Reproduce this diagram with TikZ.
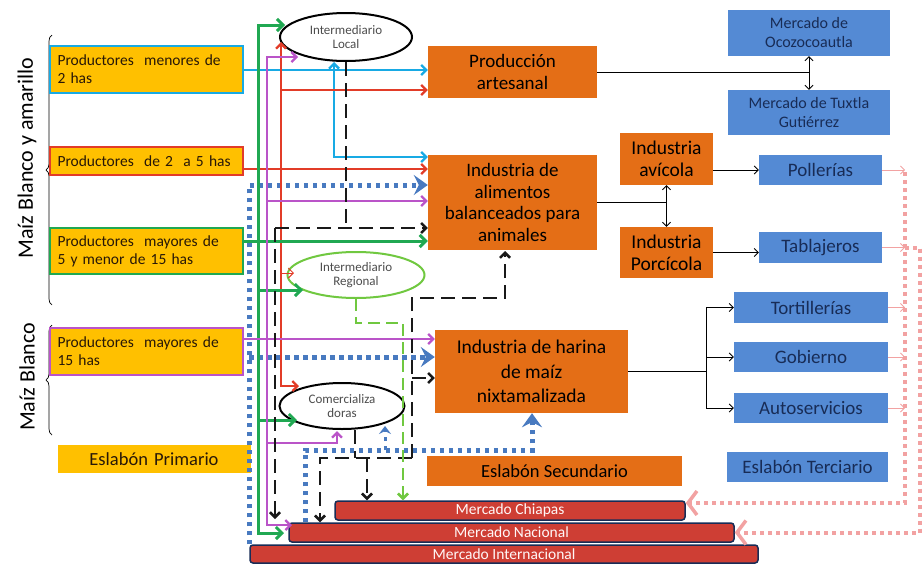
\documentclass[tikz,border=0pt]{standalone}
\usepackage{fontspec}
\setmainfont{Carlito}
\usetikzlibrary{arrows.meta,positioning,shapes.geometric,decorations.pathreplacing}
\definecolor{prodcol}{RGB}{255,192,0}
\definecolor{indcol}{RGB}{228,110,22}
\definecolor{indtext}{RGB}{40,24,8}
\definecolor{mktcol}{RGB}{84,138,212}
\definecolor{redmkt}{RGB}{206,62,52}
\definecolor{navycol}{RGB}{24,44,86}
\definecolor{cyancol}{RGB}{24,170,228}
\definecolor{redcol}{RGB}{226,60,40}
\definecolor{greencol}{RGB}{32,168,82}
\definecolor{purpcol}{RGB}{186,84,200}
\definecolor{lgreencol}{RGB}{112,200,64}
\definecolor{dotblue}{RGB}{72,122,192}
\definecolor{pinkcol}{RGB}{242,162,162}
\tikzset{
  pr/.style={rectangle,fill=prodcol,line width=2.5pt,minimum width=193pt,inner sep=0pt,text width=178pt,align=left,font=\fontsize{15.5}{18}\selectfont,text=indtext},
  ibox/.style={rectangle,fill=indcol,inner sep=0pt,align=center,font=\fontsize{19}{21.5}\selectfont,text=black},
  bx/.style={rectangle,fill=mktcol,inner sep=0pt,align=center,font=\fontsize{19}{19}\selectfont,text=navycol},
  mk/.style={rectangle,rounded corners=3pt,fill=redmkt,draw=navycol,line width=1.5pt,inner sep=0pt,minimum height=19pt,font=\fontsize{15.5}{15}\selectfont,text=white!88!pink},
  el/.style={ellipse,draw,line width=2pt,inner sep=0pt,align=center,font=\fontsize{13}{14}\selectfont,text=black!70},
  brc/.style={decorate,decoration={brace,amplitude=6pt},line width=0.7pt},
  cy/.style={-{Straight Barb[length=5pt,width=10pt]},draw=cyancol,line width=2.3pt},
  rd/.style={-{Straight Barb[length=5pt,width=10pt]},draw=redcol,line width=2.3pt},
  gr/.style={-{Straight Barb[length=6pt,width=12pt]},draw=greencol,line width=3pt},
  pu/.style={-{Straight Barb[length=5pt,width=10pt]},draw=purpcol,line width=2.3pt},
  bd/.style={-{Straight Barb[length=5pt,width=10pt]},draw=black!90,line width=2.5pt,dash pattern=on 14pt off 7pt},
  lg/.style={-{Straight Barb[length=5pt,width=10pt]},draw=lgreencol,line width=2.5pt,dash pattern=on 12pt off 6pt},
  bl/.style={-{Stealth[length=14pt,width=20pt,inset=5pt]},draw=dotblue,line width=5pt,dash pattern=on 4.5pt off 4.5pt},
  pk/.style={-{Straight Barb[length=9pt,width=24pt,line width=3.5pt]},draw=pinkcol,line width=4pt,dash pattern=on 4pt off 4pt},
  pkt/.style={-{Straight Barb[length=4pt,width=8pt]},draw=pinkcol,line width=0.8pt},
  bk/.style={-{Straight Barb[length=4pt,width=8pt]},draw=black,line width=0.9pt},
  bkd/.style={bk,{Straight Barb[length=4pt,width=8pt]}-{Straight Barb[length=4pt,width=8pt]}}
}
\begin{document}
\begin{tikzpicture}[x=1pt,y=-1pt]
\useasboundingbox (0,0) rectangle (924,565);
% labels on the left
\node[rotate=90,font=\fontsize{22}{24}\selectfont] (mby) at (27,158){Maíz Blanco y amarillo};
\node[rotate=90,font=\fontsize{22}{24}\selectfont] (mb) at (27,377){Maíz Blanco};
\coordinate (b1t) at (52,35);\coordinate (b1b) at (52,305);
\coordinate (b2t) at (52,325);\coordinate (b2b) at (52,435);
\draw[brc] (b1b) -- (b1t);
\draw[brc] (b2b) -- (b2t);
% primary link
\node[pr,draw=cyancol,minimum height=47pt] (p1) at (146.5,69.5){Productores\ \ menores de\\2 has};
\node[pr,draw=redcol,minimum height=28pt] (p2) at (146.5,161){Productores\ \ de 2\ \ a 5 has};
\node[pr,draw=greencol,minimum height=46pt] (p3) at (146.5,251){Productores\ \ mayores de\\5 y menor de 15 has};
\node[pr,draw=purpcol,minimum height=47pt] (p4) at (146.5,351.5){Productores\ \ mayores de\\15 has};
\node[pr,minimum height=28pt,align=center,font=\fontsize{18.5}{19}\selectfont] (epri) at (154,459){Eslabón Primario};
% intermediaries
\node[el,minimum width=132pt,minimum height=48pt] (loc) at (346,37){Intermediario\\Local};
\node[el,draw=lgreencol,minimum width=137pt,minimum height=46pt] (reg) at (356,275){Intermediario\\Regional};
\node[el,minimum width=125pt,minimum height=46pt] (com) at (342,406){Comercializa\\doras};
% secondary link
\node[ibox,minimum width=169pt,minimum height=52pt,font=\fontsize{19}{22}\selectfont] (art) at (512.5,72){Producción\\artesanal};
\node[ibox,minimum width=169pt,minimum height=95pt] (alim) at (512.5,202.5){Industria de\\alimentos\\balanceados para\\animales};
\node[ibox,minimum width=93pt,minimum height=52pt,font=\fontsize{19.5}{22}\selectfont] (avi) at (666.5,159){Industria\\avícola};
\node[ibox,minimum width=93pt,minimum height=51pt,font=\fontsize{19.5}{22}\selectfont] (por) at (666.5,252.5){Industria\\Porcícola};
\node[ibox,minimum width=193pt,minimum height=83pt,font=\fontsize{19.5}{24.5}\selectfont] (har) at (531.5,371.5){Industria de harina\\de maíz\\nixtamalizada};
\node[ibox,minimum width=255pt,minimum height=30pt,font=\fontsize{18.5}{19}\selectfont] (esec) at (554.5,471){Eslabón Secundario};
% tertiary link
\node[bx,minimum width=162pt,minimum height=46pt,font=\fontsize{16}{19}\selectfont] (oco) at (809,33){Mercado de\\Ocozocoautla};
\node[bx,minimum width=162pt,minimum height=45pt,font=\fontsize{16}{19}\selectfont] (tux) at (809,112.5){Mercado de Tuxtla\\Gutiérrez};
\node[bx,minimum width=123pt,minimum height=30pt] (pol) at (820.5,170){Pollerías};
\node[bx,minimum width=123pt,minimum height=31pt] (tab) at (820.5,247.5){Tablajeros};
\node[bx,minimum width=154pt,minimum height=31pt] (tor) at (811,307.5){Tortillerías};
\node[bx,minimum width=154pt,minimum height=30pt] (gob) at (811,357){Gobierno};
\node[bx,minimum width=154pt,minimum height=30pt] (aut) at (811,408){Autoservicios};
\node[bx,minimum width=161pt,minimum height=30pt] (eter) at (807.5,467){Eslabón Terciario};
% markets
\node[mk,minimum width=508pt,minimum height=18pt] (int) at (504,554){Mercado Internacional};
\node[mk,minimum width=445pt] (nac) at (511.5,532.5){Mercado Nacional};
\node[mk,minimum width=350pt] (chi) at (510,510.5){Mercado Chiapas};
% blue dotted returns
\coordinate (blt) at (249,185);\coordinate (blm) at (249,357);
\coordinate (bls) at (305,450);\coordinate (blh) at (532,450);\coordinate (blc) at (385,450);\coordinate (blce) at (385,426);
\draw[bl] (int.north -| blt) -- (blt) -- (blt -| alim.west);
\draw[bl] (blm) -- (blm -| har.west);
\draw[bl] (nac.north -| bls) -- (bls) -- (blh) -- (blh |- har.south);
\draw[bl,-{Stealth[length=8pt,width=12pt,inset=3pt]},line width=3pt] (blc) -- (blce);
% producers 1
\coordinate (cyj) at (334,70);\coordinate (cyb) at (334,157);
\draw[cy] (p1.east |- cyj) -- (cyj -| art.west);
\draw[cy] (cyj) -- (cyj |- loc.south);
\draw[cy] (cyj) -- (cyb) -- (cyb -| alim.west);
% producers 2
\coordinate (rdj) at (281,169);\coordinate (rdt) at (281,42);\coordinate (rda) at (281,90);
\coordinate (rdr) at (281,273);\coordinate (rdre) at (294,273);\coordinate (rdc) at (299,386);
\draw[rd] (p2.east |- rdj) -- (rdj -| alim.west);
\draw[rd] (rdj) -- (rdt);
\draw[rd] (rda) -- (rda -| art.west);
\draw[rd] (rdj) |- (rdc);
\draw[rd,line width=1pt] (rdr) -- (rdre);
% producers 3
\coordinate (grj) at (258,241);\coordinate (grt) at (285,25);\coordinate (grn) at (284,533);
\coordinate (grr) at (258,290);\coordinate (grre) at (303,290);\coordinate (grc) at (258,420);\coordinate (grce) at (297,420);
\draw[gr] (p3.east |- grj) -- (grj -| alim.west);
\draw[gr] (grj) |- (grt);
\draw[gr] (grj) |- (grn);
\draw[gr] (grr) -- (grre);
\draw[gr] (grc) -- (grce);
% producers 4
\coordinate (puj) at (267,339);\coordinate (put) at (298,57);\coordinate (pun) at (292,525);
\coordinate (pua) at (267,201);\coordinate (puc) at (267,443);\coordinate (puce) at (337,431);
\draw[pu] (p4.east |- puj) -- (puj -| har.west);
\draw[pu] (puj) |- (put);
\draw[pu] (puj) |- (pun);
\draw[pu] (pua) -- (pua -| alim.west);
\draw[pu] (puc) -| (puce);
% intermediaries out
\coordinate (bdh) at (275,228);\coordinate (bdn) at (275,519);
\draw[bd,-] (loc.south) -- (loc.south |- bdh);
\draw[bd] (bdh) -- (bdh -| alim.west);
\draw[bd] (bdh) -- (bdn);
\coordinate (bdc) at (355,458);\coordinate (bdr) at (412,458);\coordinate (bdl) at (320,458);\coordinate (bdm) at (367,458);
\coordinate (bdu) at (412,298);\coordinate (bda) at (505,251);\coordinate (bdh2) at (412,378);
\draw[bd,-] (com.south -| bdc) -- (bdc);
\draw[bd] (bdr) -- (bdl) -- (bdl |- nac.north);
\draw[bd] (bdm) -- (bdm |- chi.north);
\draw[bd] (bdr) -- (bdu) -| (bda);
\draw[bd] (bdh2) -- (bdh2 -| har.west);
\coordinate (lgj) at (403,323);
\draw[lg] (reg.south) |- (lgj) -- (lgj |- chi.north);
% industry to markets
\draw[bk,-] (art.east) -- (art.east -| oco.south);
\draw[bkd] (oco.south) -- (tux.north);
\draw[bk,-] (alim.east) -- (alim.east -| avi.south);
\draw[bkd] (avi.south) -- (por.north);
\draw[bk] (avi.east |- pol.west) -- (pol.west);
\draw[bk] (por.east) -- (por.east -| tab.west);
\coordinate (hj) at (706,371.5);
\draw[bk,-] (har.east) -- (hj);
\draw[bk,-] (hj |- tor) -- (hj |- aut);
\foreach \n in {tor,gob,aut}{\draw[bk] (hj |- \n) -- (\n.west);}
% pink returns
\coordinate (pkt) at (905,172);\coordinate (pkb) at (905,503);
\coordinate (pk2) at (920,247.5);\coordinate (pk2b) at (920,532.5);
\draw[pk] (pkt) -- (pkb) -- (pkb -| chi.east);
\draw[pk] (tab.east -| pkt) -- (pk2) -- (pk2b) -- (nac.east);
\foreach \n in {pol,tab,tor,gob,aut}{\draw[pkt] (\n.east) -- (\n.east -| pkt);}
\end{tikzpicture}
\end{document}
